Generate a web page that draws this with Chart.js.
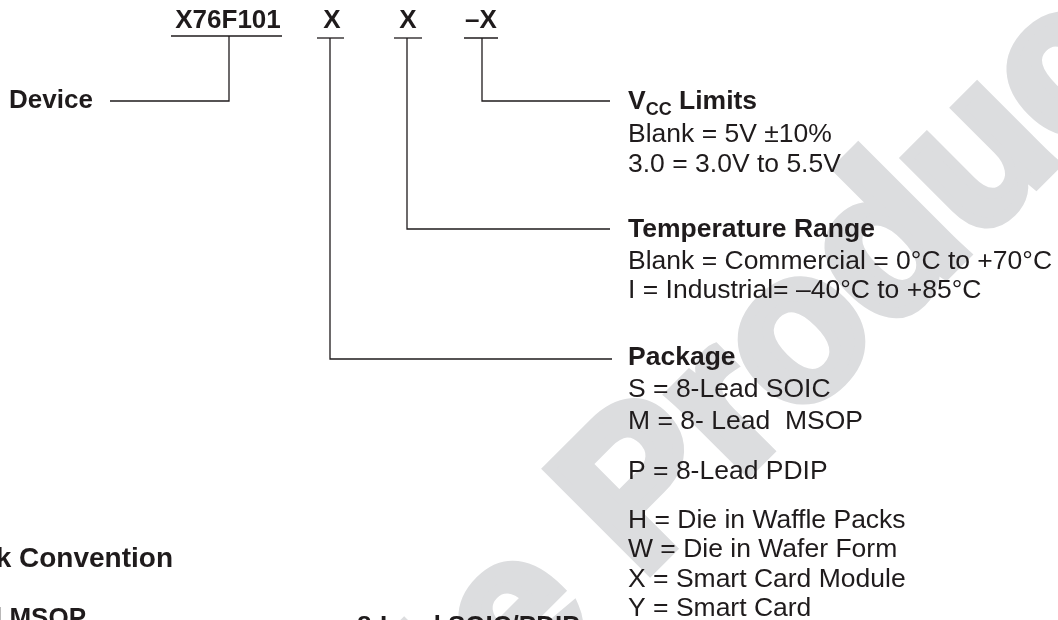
<!DOCTYPE html>
<html>
<head>
<meta charset="utf-8">
<script src="https://cdn.jsdelivr.net/npm/chart.js@4.4.1/dist/chart.umd.min.js"></script>
<style>
  html, body { margin: 0; padding: 0; background: #ffffff; }
  canvas { display: block; }
</style>
</head>
<body>
<canvas id="ordering" width="1058" height="620"></canvas>
<script>
// Part number fields (top row)
const codeLabels = ['X76F101', 'X', 'X', '\u2013X'];
const codeCenters = [228, 332, 408, 481];
const codeBaseline = 28;
const codeUnderlines = [[171, 282, 36], [317, 344, 38], [394, 422, 38], [464, 498, 38]];

// Leader lines from each field to its description
const deviceLeader = [[229, 36], [229, 101], [110, 101]];
const vccLeader = [[482, 38], [482, 101], [610, 101]];
const tempLeader = [[407, 38], [407, 229], [610, 229]];
const packageLeader = [[330, 38], [330, 359], [612, 359]];

// Description blocks
const textLeft = 628;
const vccLines = ['Blank = 5V \u00b110%', '3.0 = 3.0V to 5.5V'];
const vccBaselines = [142, 172];
const tempTitle = 'Temperature Range';
const tempLines = ['Blank = Commercial = 0\u00b0C to +70\u00b0C', 'I = Industrial= \u201340\u00b0C to +85\u00b0C'];
const tempBaselines = [237, 269, 298];
const packageTitle = 'Package';
const packageLines = [
  'S = 8-Lead SOIC',
  'M = 8- Lead  MSOP',
  'P = 8-Lead PDIP',
  'H = Die in Waffle Packs',
  'W = Die in Wafer Form',
  'X = Smart Card Module',
  'Y = Smart Card'
];
const packageBaselines = [365, 397, 429, 479, 528, 557, 587, 616];

// Bottom headings (cut off by the page edge)
const markHeading = 'Part Mark Convention';
const msopHeading = '8-Lead MSOP';
const soicHeading = '8-Lead SOIC/PDIP';

// diagonal watermark: text, anchor point, angle, size
const watermark = 'Obsolete Products';
const watermarkAnchor = [-30, 1250];
const watermarkAngle = -45;
const watermarkSize = 208;

const ink = '#1f1b1c';
const FONT = '"Liberation Sans", Arial, Helvetica, sans-serif';

function toPoints(arr) {
  return arr.map(p => ({ x: p[0], y: p[1] }));
}

const leaderSets = [deviceLeader, vccLeader, tempLeader, packageLeader].map(l => ({
  data: toPoints(l),
  showLine: true,
  borderColor: ink,
  borderWidth: 1.3,
  pointRadius: 0,
  tension: 0
}));

const underlineSets = codeUnderlines.map(u => ({
  data: [{ x: u[0], y: u[2] }, { x: u[1], y: u[2] }],
  showLine: true,
  borderColor: ink,
  borderWidth: 1.3,
  pointRadius: 0
}));

const textPlugin = {
  id: 'diagramText',
  beforeDatasetsDraw(chart) {
    const ctx = chart.ctx;
    const xs = chart.scales.x, ys = chart.scales.y;
    // grey watermark behind everything, stroked to get the heavy weight
    ctx.save();
    ctx.translate(xs.getPixelForValue(watermarkAnchor[0]), ys.getPixelForValue(watermarkAnchor[1]));
    ctx.rotate(watermarkAngle * Math.PI / 180);
    ctx.fillStyle = '#dcdddf';
    ctx.strokeStyle = '#dcdddf';
    ctx.lineWidth = 11;
    ctx.lineJoin = 'miter';
    ctx.font = 'bold ' + watermarkSize + 'px ' + FONT;
    ctx.textBaseline = 'alphabetic';
    ctx.fillText(watermark, 0, 0);
    ctx.strokeText(watermark, 0, 0);
    ctx.restore();
  },
  afterDatasetsDraw(chart) {
    const ctx = chart.ctx;
    const xs = chart.scales.x, ys = chart.scales.y;
    const px = v => xs.getPixelForValue(v);
    const py = v => ys.getPixelForValue(v);
    ctx.save();
    ctx.fillStyle = ink;
    ctx.textBaseline = 'alphabetic';

    ctx.font = 'bold 26px ' + FONT;
    ctx.textAlign = 'center';
    codeLabels.forEach((t, i) => ctx.fillText(t, px(codeCenters[i]), py(codeBaseline)));

    ctx.textAlign = 'left';
    ctx.fillText('Device', px(9), py(108));

    // V_CC Limits
    ctx.font = 'bold 26.5px ' + FONT;
    ctx.fillText('V', px(textLeft), py(109));
    let w = ctx.measureText('V').width;
    ctx.font = 'bold 18px ' + FONT;
    ctx.fillText('CC', px(textLeft) + w, py(115));
    w += ctx.measureText('CC').width;
    ctx.font = 'bold 26.5px ' + FONT;
    ctx.fillText(' Limits', px(textLeft) + w, py(109));

    ctx.fillText(tempTitle, px(textLeft), py(tempBaselines[0]));
    ctx.fillText(packageTitle, px(textLeft), py(packageBaselines[0]));

    ctx.font = '26.5px ' + FONT;
    vccLines.forEach((t, i) => ctx.fillText(t, px(textLeft), py(vccBaselines[i])));
    tempLines.forEach((t, i) => ctx.fillText(t, px(textLeft), py(tempBaselines[i + 1])));
    packageLines.forEach((t, i) => ctx.fillText(t, px(textLeft), py(packageBaselines[i + 1])));

    ctx.font = 'bold 28px ' + FONT;
    ctx.textAlign = 'right';
    ctx.fillText(markHeading, px(173), py(567));
    ctx.font = 'bold 26px ' + FONT;
    ctx.fillText(msopHeading, px(86), py(626));
    ctx.textAlign = 'left';
    ctx.fillText(soicHeading, px(357), py(634));
    ctx.restore();
  }
};

new Chart(document.getElementById('ordering'), {
  type: 'scatter',
  data: { datasets: [...leaderSets, ...underlineSets] },
  options: {
    responsive: false,
    animation: false,
    layout: { padding: 0 },
    plugins: { legend: { display: false }, tooltip: { enabled: false } },
    scales: {
      x: { type: 'linear', min: 0, max: 1058, display: false },
      y: { type: 'linear', min: 0, max: 620, reverse: true, display: false }
    }
  },
  plugins: [textPlugin]
});
</script>
</body>
</html>
